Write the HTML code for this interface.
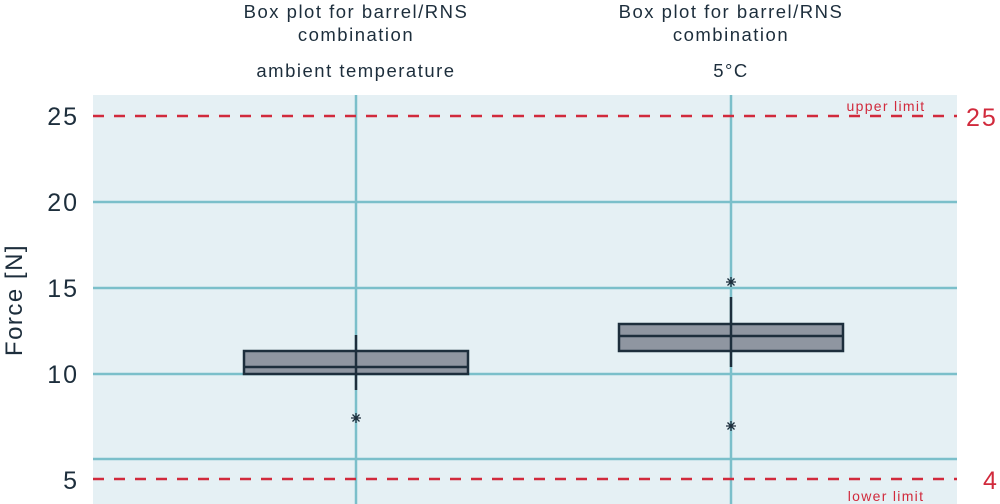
<!DOCTYPE html>
<html><head><meta charset="utf-8"><style>
body{margin:0;background:#fff;width:1000px;height:504px;overflow:hidden}
svg{display:block;font-family:"Liberation Sans",sans-serif}
</style></head><body>
<svg width="1000" height="504" viewBox="0 0 1000 504">
<rect x="93" y="95" width="864" height="409" fill="#e5f0f4"/>
<g stroke="#7bbfca" stroke-width="2.5">
<line x1="93" y1="202" x2="957" y2="202"/>
<line x1="93" y1="288" x2="957" y2="288"/>
<line x1="93" y1="374" x2="957" y2="374"/>
<line x1="93" y1="459" x2="957" y2="459"/>
<line x1="356" y1="95" x2="356" y2="504"/>
<line x1="731" y1="95" x2="731" y2="504"/>
</g>
<g stroke="#d12a3c" stroke-width="2.5" stroke-dasharray="11 10">
<line x1="93" y1="116" x2="957" y2="116"/>
<line x1="93" y1="479" x2="957" y2="479"/>
</g>
<g stroke="#1d2e3c" stroke-width="2.5" fill="#8f96a1">
<rect x="244" y="351" width="224" height="23"/>
<line x1="244" y1="367" x2="468" y2="367"/>
<line x1="356" y1="335" x2="356" y2="390"/>
<rect x="619" y="324" width="224" height="27"/>
<line x1="619" y1="336" x2="843" y2="336"/>
<line x1="731" y1="297" x2="731" y2="367"/>
</g>
<g stroke="#1d2e3c" stroke-width="1.3">
<path d="M351 418h10M356 413v10M352.5 414.5l7 7M359.5 414.5l-7 7"/>
<path d="M726 282h10M731 277v10M727.5 278.5l7 7M734.5 278.5l-7 7"/>
<path d="M726 426h10M731 421v10M727.5 422.5l7 7M734.5 422.5l-7 7"/>
</g>
<g fill="#1d2e3c" font-size="25" text-anchor="end" letter-spacing="2">
<text x="79" y="125">25</text>
<text x="79" y="211">20</text>
<text x="79" y="297">15</text>
<text x="79" y="383">10</text>
<text x="79" y="489">5</text>
</g>
<text transform="translate(22,300) rotate(-90)" text-anchor="middle" font-size="24" letter-spacing="1.5" fill="#1d2e3c">Force [N]</text>
<g fill="#d12a3c">
<text x="966" y="126" font-size="25" letter-spacing="2">25</text>
<text x="983" y="489" font-size="25">4</text>
<text x="886" y="111" font-size="14" letter-spacing="1.3" text-anchor="middle">upper limit</text>
<text x="886" y="501" font-size="14" letter-spacing="1.3" text-anchor="middle">lower limit</text>
</g>
<g fill="#1d2e3c" font-size="18.5" text-anchor="middle" letter-spacing="1.5">
<text x="356" y="18">Box plot for barrel/RNS</text>
<text x="356" y="41">combination</text>
<text x="356" y="77">ambient temperature</text>
<text x="731" y="18">Box plot for barrel/RNS</text>
<text x="731" y="41">combination</text>
<text x="731" y="77">5°C</text>
</g>
</svg>
</body></html>
